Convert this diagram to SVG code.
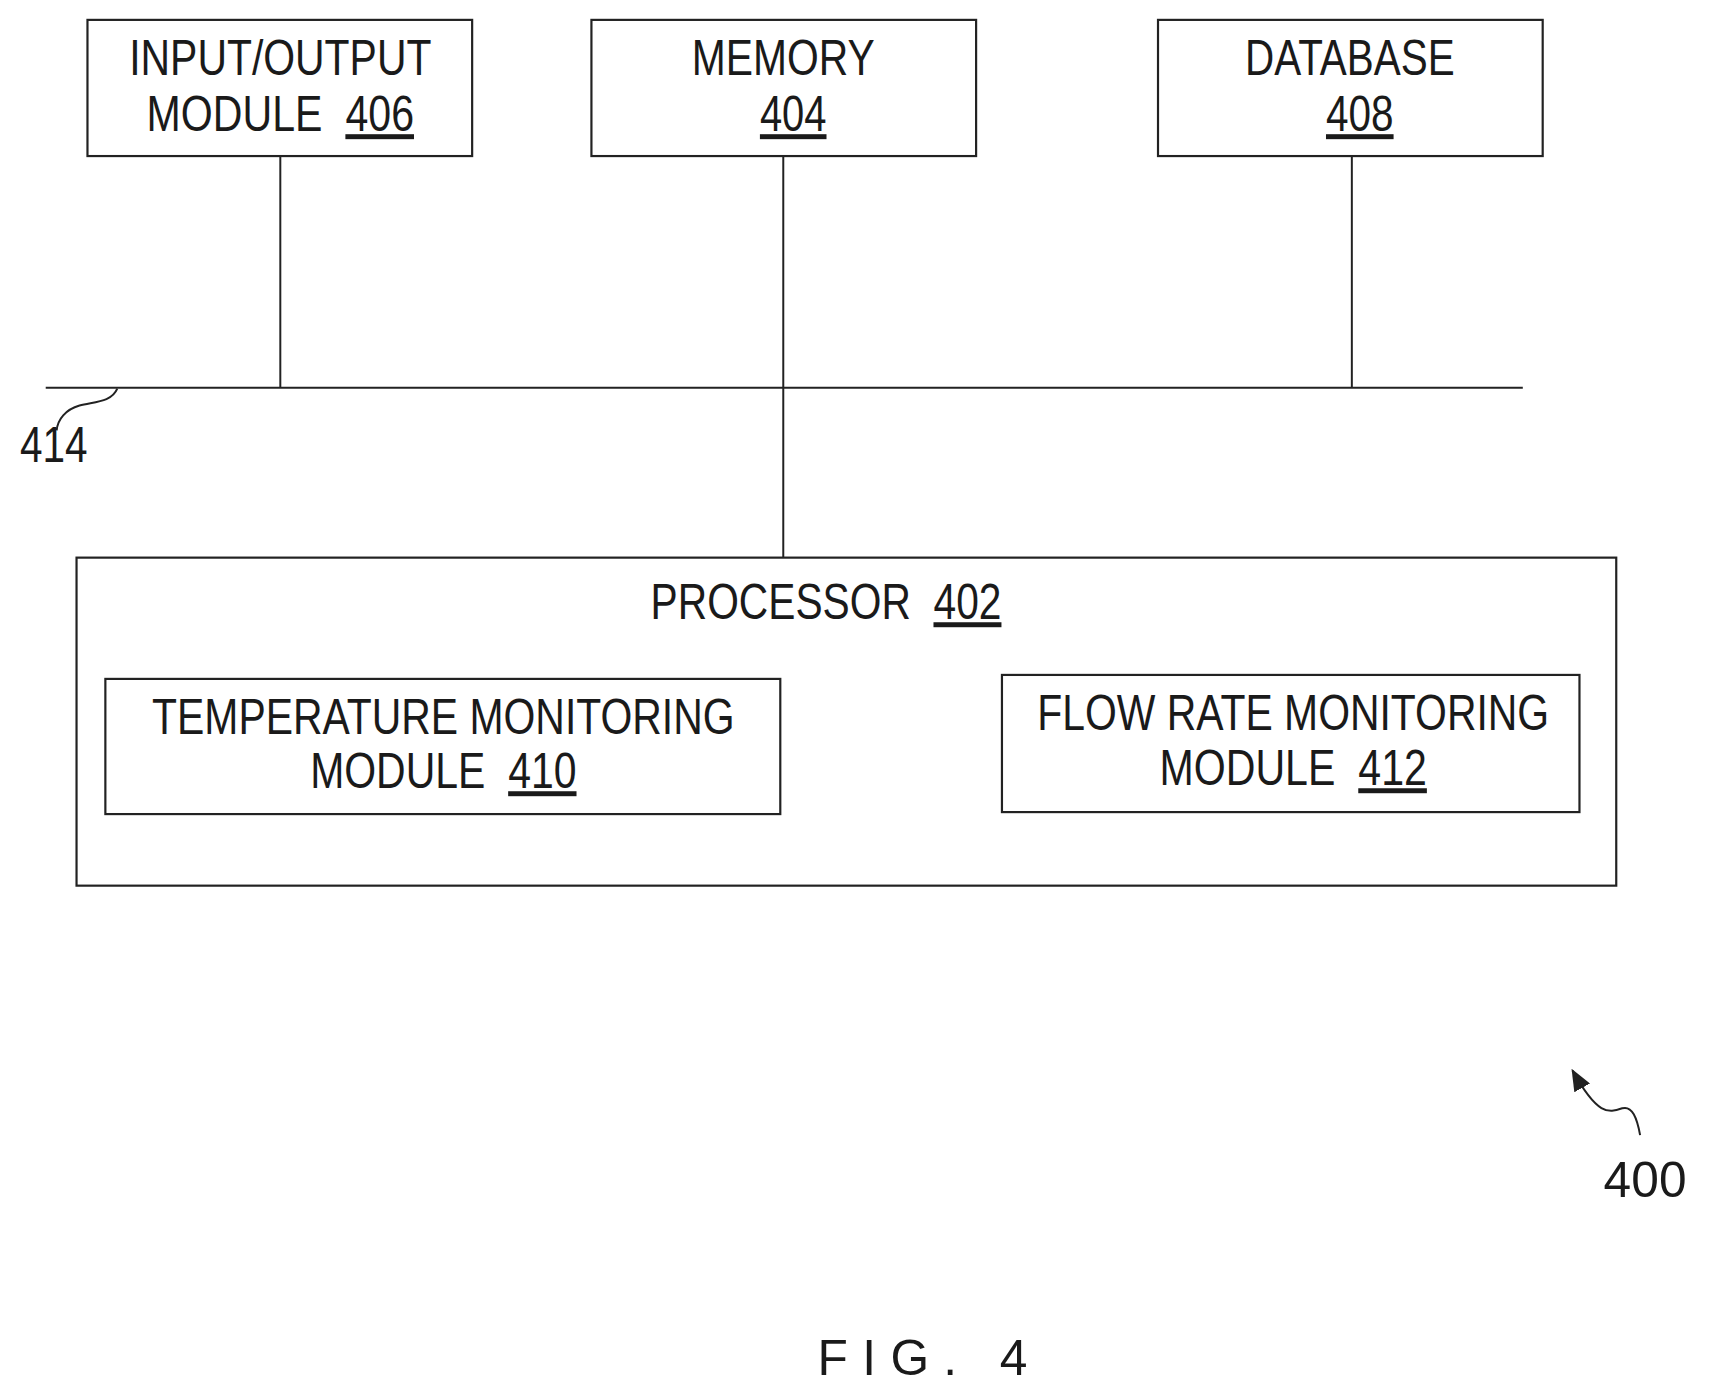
<svg xmlns="http://www.w3.org/2000/svg" width="1710" height="1394" viewBox="0 0 1710 1394">
<style>
.b{fill:none;stroke:#222;stroke-width:2.2}
.t{font-family:"Liberation Sans",Arial,sans-serif;font-size:50px;fill:#1a1a1a;text-anchor:middle}
.c{fill:none;stroke:#222;stroke-width:2}
</style>
<defs><marker id="ah" markerWidth="22" markerHeight="18" refX="20" refY="9" orient="auto" markerUnits="userSpaceOnUse"><path d="M0,0 L22,9 L0,18 z" fill="#222"/></marker></defs>
<rect width="1710" height="1394" fill="#fff"/>
<g transform="scale(0.994)">
<g id="connectors">
<line class="c" x1="46" y1="390" x2="1532" y2="390"/>
<line class="c" x1="282" y1="157" x2="282" y2="390"/>
<line class="c" x1="788" y1="157" x2="788" y2="561"/>
<line class="c" x1="1360" y1="157" x2="1360" y2="390"/>
<path class="c" d="M118,391 C112,405 95,404 80,408 C66,412 58,422 57,433"/>
<path class="c" stroke-width="2.6" d="M1650,1142 C1647,1125 1642,1112 1632,1115 C1618,1120 1607,1122 1582,1077" marker-end="url(#ah)"/>
</g>
<g id="n406"><rect class="b" x="88" y="20" width="387" height="137"/>
<text class="t" x="282" y="75" textLength="304" lengthAdjust="spacingAndGlyphs">INPUT/OUTPUT</text>
<text class="t" x="282" y="132" textLength="269" lengthAdjust="spacingAndGlyphs">MODULE&#160; <tspan text-decoration="underline">406</tspan></text></g>
<g id="n404"><rect class="b" x="595" y="20" width="387" height="137"/>
<text class="t" x="788" y="75" textLength="184" lengthAdjust="spacingAndGlyphs">MEMORY</text>
<text class="t" x="798" y="132" textLength="67" lengthAdjust="spacingAndGlyphs" text-decoration="underline">404</text></g>
<g id="n408"><rect class="b" x="1165" y="20" width="387" height="137"/>
<text class="t" x="1358" y="75" textLength="211" lengthAdjust="spacingAndGlyphs">DATABASE</text>
<text class="t" x="1368" y="132" textLength="68" lengthAdjust="spacingAndGlyphs" text-decoration="underline">408</text></g>
<g id="n402"><rect class="b" x="77" y="561" width="1549" height="330"/>
<text class="t" x="831" y="623" textLength="353" lengthAdjust="spacingAndGlyphs">PROCESSOR&#160; <tspan text-decoration="underline">402</tspan></text></g>
<g id="n410"><rect class="b" x="106" y="683" width="679" height="136"/>
<text class="t" x="446" y="738" textLength="586" lengthAdjust="spacingAndGlyphs">TEMPERATURE MONITORING</text>
<text class="t" x="446" y="793" textLength="268" lengthAdjust="spacingAndGlyphs">MODULE&#160; <tspan text-decoration="underline">410</tspan></text></g>
<g id="n412"><rect class="b" x="1008" y="679" width="581" height="138"/>
<text class="t" x="1301" y="734" textLength="515" lengthAdjust="spacingAndGlyphs">FLOW RATE MONITORING</text>
<text class="t" x="1301" y="790" textLength="269" lengthAdjust="spacingAndGlyphs">MODULE&#160; <tspan text-decoration="underline">412</tspan></text></g>
<text class="t" x="54" y="465" textLength="68" lengthAdjust="spacingAndGlyphs">414</text>
<text class="t" x="1655" y="1204" font-size="58">400</text>
<text class="t" x="928" y="1383" font-size="88" textLength="211" lengthAdjust="spacing">FIG. 4</text>
</g>
</svg>
